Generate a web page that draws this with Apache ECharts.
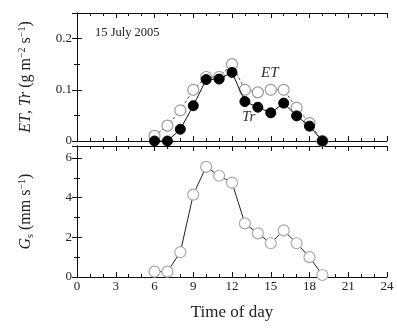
<!DOCTYPE html>
<html>
<head>
<meta charset="utf-8">
<script src="https://cdn.jsdelivr.net/npm/echarts@6/dist/echarts.min.js"></script>
<style>
  html, body { margin: 0; padding: 0; background: #fff; }
  #chart { width: 397px; height: 329px; }
</style>
</head>
<body>
<div id="chart"></div>
<script>
const hours = [6, 7, 8, 9, 10, 11, 12, 13, 14, 15, 16, 17, 18, 19];
const etValues = [0.01, 0.03, 0.06, 0.1, 0.125, 0.125, 0.15, 0.1, 0.095, 0.1, 0.1, 0.065, 0.035, 0];
const trValues = [0, 0, 0.023, 0.069, 0.12, 0.121, 0.134, 0.077, 0.066, 0.055, 0.074, 0.049, 0.029, 0];
const gsValues = [0.27, 0.27, 1.25, 4.15, 5.55, 5.1, 4.75, 2.7, 2.2, 1.7, 2.35, 1.7, 1.0, 0.1];

const font = 'Liberation Serif';
const pair = (vals) => hours.map((h, i) => [h, vals[i]]);

const chart = echarts.init(document.getElementById('chart'));

const frameX = (grid, pos, labels) => ({
  type: 'value',
  gridIndex: grid,
  position: pos,
  min: 0,
  max: 24,
  interval: 3,
  axisLine: { onZero: false, lineStyle: { color: '#111', width: 1 } },
  axisTick: { inside: true, length: 5, lineStyle: { color: '#111' } },
  minorTick: { show: true, splitNumber: 3, length: 3, lineStyle: { color: '#111' } },
  splitLine: { show: false },
  axisLabel: { show: labels, color: '#222', fontFamily: font, fontSize: 13, margin: 3 }
});

const frameY = (grid, pos, max, interval, minorSplit, labels, fmt) => ({
  type: 'value',
  gridIndex: grid,
  position: pos,
  min: 0,
  max: max,
  interval: interval,
  axisLine: { show: true, lineStyle: { color: '#111', width: 1 } },
  axisTick: { show: true, inside: true, length: 5, lineStyle: { color: '#111' } },
  minorTick: { show: true, splitNumber: minorSplit, length: 3, lineStyle: { color: '#111' } },
  splitLine: { show: false },
  axisLabel: {
    show: labels, color: '#222', fontFamily: font, fontSize: 13, margin: 5,
    showMaxLabel: false, formatter: fmt
  }
});

const topY = frameY(0, 'left', 0.25, 0.1, 2, true, (v) => v === 0 ? '0' : v.toFixed(1));
topY.name = '{i|ET}{n|, }{i|Tr}{n| (g m}{s|−2}{n| s}{s|−1}{n|)}';
topY.nameLocation = 'middle';
topY.nameGap = 42;
topY.nameTextStyle = {
  fontFamily: font, color: '#222',
  rich: {
    i: { fontFamily: font, fontStyle: 'italic', fontSize: 16, color: '#222' },
    n: { fontFamily: font, fontSize: 16, color: '#222' },
    s: { fontFamily: font, fontSize: 10, color: '#222', padding: [0, 0, 8, 0] }
  }
};

const botY = frameY(1, 'left', 6.6, 2, 2, true, (v) => String(v));
botY.name = '{i|G}{b|s}{n| (mm s}{s|−1}{n|)}';
botY.nameLocation = 'middle';
botY.nameGap = 42;
botY.nameTextStyle = {
  fontFamily: font, color: '#222',
  rich: {
    i: { fontFamily: font, fontStyle: 'italic', fontSize: 16, color: '#222' },
    n: { fontFamily: font, fontSize: 16, color: '#222' },
    b: { fontFamily: font, fontSize: 10, color: '#222', padding: [8, 0, 0, 0] },
    s: { fontFamily: font, fontSize: 10, color: '#222', padding: [0, 0, 8, 0] }
  }
};

const botX = frameX(1, 'bottom', true);
botX.name = 'Time of day';
botX.nameLocation = 'middle';
botX.nameGap = 27;
botX.nameTextStyle = { fontFamily: font, fontSize: 17, color: '#222' };

const option = {
  backgroundColor: '#fff',
  animation: false,
  grid: [
    { left: 77, right: 10, top: 13, height: 128 },
    { left: 77, right: 10, top: 146, height: 131 }
  ],
  xAxis: [
    frameX(0, 'bottom', false),
    frameX(0, 'top', false),
    botX,
    frameX(1, 'top', false)
  ],
  yAxis: [
    topY,
    frameY(0, 'right', 0.25, 0.1, 2, false),
    botY,
    frameY(1, 'right', 6.6, 2, 2, false)
  ],
  graphic: [
    { type: 'text', left: 95, top: 26, style: { text: '15 July 2005', font: '12.5px "Liberation Serif"', fill: '#222' } },
    { type: 'text', left: 261, top: 66, style: { text: 'ET', font: 'italic 15px "Liberation Serif"', fill: '#333' } },
    { type: 'text', left: 242, top: 110, style: { text: 'Tr', font: 'italic 15px "Liberation Serif"', fill: '#333' } }
  ],
  series: [
    {
      name: 'ET', type: 'line', xAxisIndex: 0, yAxisIndex: 0,
      data: pair(etValues),
      symbol: 'circle', symbolSize: 11,
      lineStyle: { color: '#555', width: 1, type: [3, 2] },
      itemStyle: { color: '#fff', borderColor: '#999', borderWidth: 1.2 },
      z: 2
    },
    {
      name: 'Tr', type: 'line', xAxisIndex: 0, yAxisIndex: 0,
      data: pair(trValues),
      symbol: 'circle', symbolSize: 10,
      lineStyle: { color: '#111', width: 1 },
      itemStyle: { color: '#000', borderColor: '#000', borderWidth: 1 },
      z: 3
    },
    {
      name: 'Gs', type: 'line', xAxisIndex: 2, yAxisIndex: 2,
      data: pair(gsValues),
      symbol: 'circle', symbolSize: 11,
      lineStyle: { color: '#222', width: 1 },
      itemStyle: { color: '#fff', borderColor: '#aaa', borderWidth: 1.2 },
      z: 2
    }
  ]
};

chart.setOption(option);
</script>
</body>
</html>
